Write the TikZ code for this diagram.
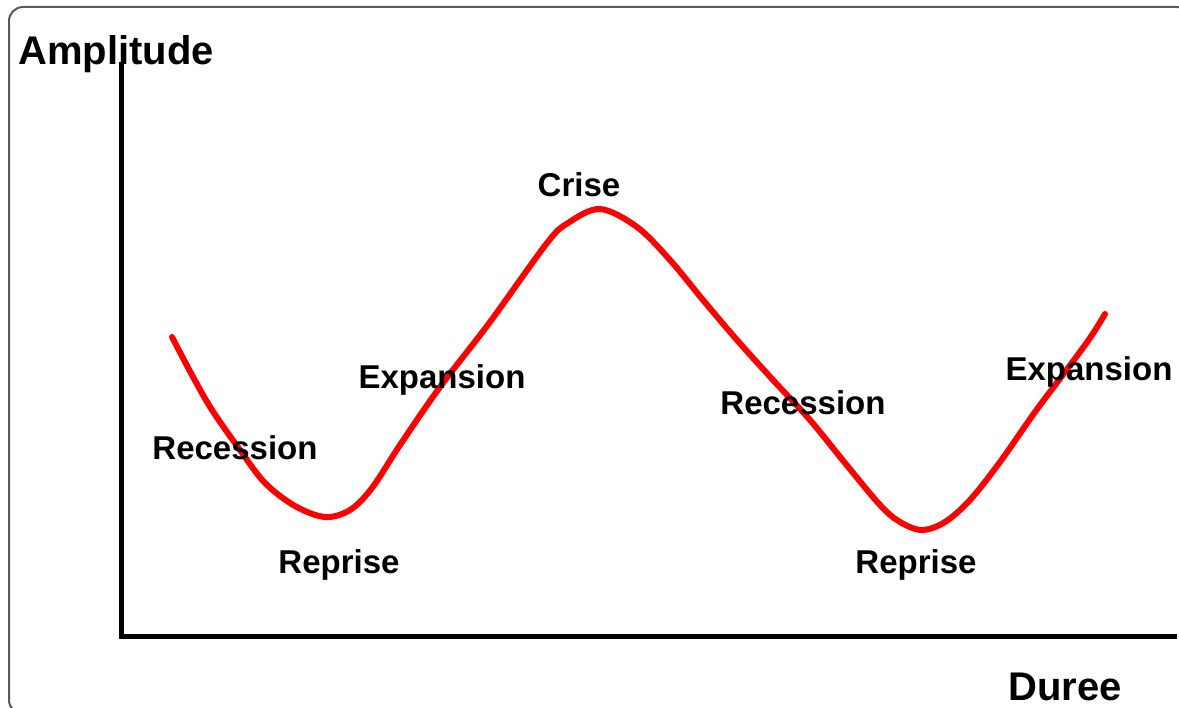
\documentclass[tikz,border=0pt]{standalone}
\usepackage{fontspec}
\setmainfont{Liberation Sans}
\begin{document}
\begin{tikzpicture}[x=1pt,y=-1pt,
  lbl/.style={font=\fontsize{33}{36}\selectfont\bfseries, anchor=base, inner sep=0pt},
  axlbl/.style={font=\fontsize{40}{44}\selectfont\bfseries, anchor=base, inner sep=0pt},
  axis/.style={line width=5pt, black, line cap=rect, line join=miter},
  cycle/.style={line width=6pt, red, line cap=round, line join=round},
  frame/.style={line width=2pt, draw=black!65, rounded corners=14pt}]
\useasboundingbox (0,0) rectangle (1179,708);
\begin{scope}
\clip (0,0) rectangle (1179,708);
\draw[frame] (9,7) rectangle (1191,714);
\end{scope}
% axes
\coordinate (ytop) at (121,65);
\coordinate (origin) at (121,636);
\coordinate (xend) at (1174,636);
\draw[axis] (ytop) -- (origin) -- (xend);
% curve
\draw[cycle] plot[smooth, tension=0.55] coordinates {
 (172,337) (192,375) (212,410) (240,450) (265,483) (295,506) (325,517)
 (350,510) (372,488) (400,445) (440,387) (490,322)
 (547,243) (568,223) (600,209) (637,227) (670,260) (703,300) (737,340)
 (773,380) (810,420) (845,463) (880,505) (900,522) (922,530) (945,522)
 (970,500) (1000,462) (1035,412) (1065,372) (1090,338) (1105,314)};
% labels
\node[axlbl] (amp) at (116,65) {Amplitude};
\node[axlbl] (dur) at (1065,700) {Duree};
\node[lbl] (crise) at (579,197) {Crise};
\node[lbl] (exp1) at (442,389) {Expansion};
\node[lbl] (rec1) at (235,460) {Recession};
\node[lbl] (rep1) at (339,573) {Reprise};
\node[lbl] (rec2) at (803,415) {Recession};
\node[lbl] (rep2) at (916,573) {Reprise};
\node[lbl] (exp2) at (1089,381) {Expansion};
\end{tikzpicture}
\end{document}
